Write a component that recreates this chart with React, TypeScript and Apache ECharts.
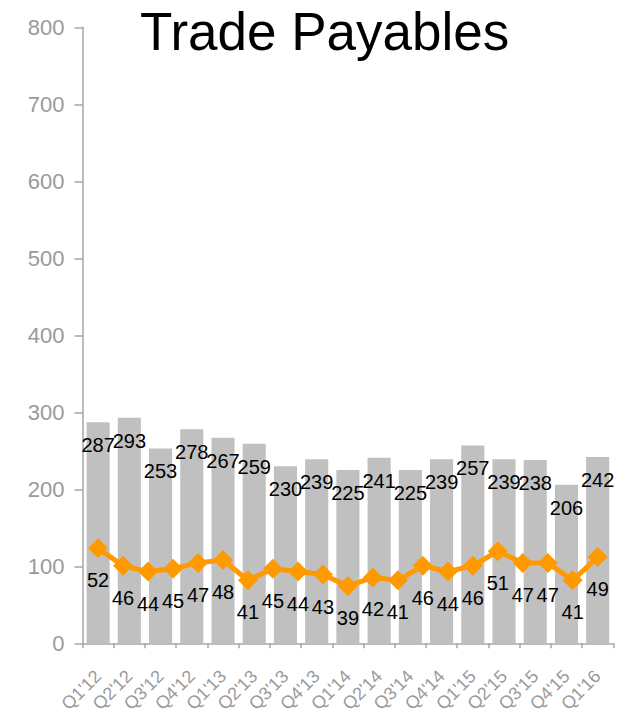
import React, { useEffect, useRef } from "react";
import * as echarts from "echarts";

const categories = ["Q1'12", "Q2'12", "Q3'12", "Q4'12", "Q1'13", "Q2'13", "Q3'13", "Q4'13", "Q1'14", "Q2'14", "Q3'14", "Q4'14", "Q1'15", "Q2'15", "Q3'15", "Q4'15", "Q1'16"];
const barValues = [287, 293, 253, 278, 267, 259, 230, 239, 225, 241, 225, 239, 257, 239, 238, 206, 242];
const lineValues = [52, 46, 44, 45, 47, 48, 41, 45, 44, 43, 39, 42, 41, 46, 44, 46, 51, 47, 47, 41, 49];
const yTicks = [0, 100, 200, 300, 400, 500, 600, 700, 800];

const FONT = "Liberation Sans, Arial, sans-serif";

export default function App() {
  const ref = useRef<HTMLDivElement>(null);
  useEffect(() => {
    if (!ref.current) return;
    const chart = echarts.init(ref.current, undefined, { renderer: "svg" });
    const n = lineValues.length - 1;
    const pad = (0.5 * n) / (categories.length - 1);
    chart.setOption({
      animation: false,
      backgroundColor: "#ffffff",
      textStyle: { fontFamily: FONT },
      title: {
        text: "Trade Payables",
        left: 135,
        top: 0,
        textStyle: { fontSize: 53, fontWeight: "normal", color: "#000000", fontFamily: FONT },
      },
      grid: { left: 82.5, right: 11.7, top: 27.3, bottom: 70.7, containLabel: false, outerBoundsMode: "none" },
      xAxis: [
        {
          type: "category",
          data: categories,
          boundaryGap: true,
          axisLine: { show: true, onZero: false, lineStyle: { color: "#a6a6a6", width: 1.5 } },
          axisTick: { show: true, length: 5, alignWithLabel: false, lineStyle: { color: "#a6a6a6", width: 1.5 } },
          axisLabel: { rotate: 45, fontSize: 18, color: "#9a9a9a", margin: 30, interval: 0, fontFamily: FONT },
          splitLine: { show: false },
        },
        {
          type: "value",
          min: -pad,
          max: n + pad,
          show: false,
          axisLine: { onZero: false },
        },
      ],
      yAxis: [
        {
          type: "value",
          min: yTicks[0],
          max: yTicks[yTicks.length - 1],
          interval: 100,
          axisLine: { show: true, onZero: false, lineStyle: { color: "#a6a6a6", width: 1.5 } },
          axisTick: { show: true, length: 8, inside: false, lineStyle: { color: "#a6a6a6", width: 1.5 } },
          axisLabel: { fontSize: 22, color: "#9a9a9a", margin: 18, fontFamily: FONT },
          splitLine: { show: false },
        },
        {
          type: "value",
          min: 19.3,
          max: 231.5,
          show: false,
          axisLine: { onZero: false },
          splitLine: { show: false },
        },
      ],
      series: [
        {
          type: "bar",
          xAxisIndex: 0,
          yAxisIndex: 0,
          data: barValues,
          barWidth: "74%",
          itemStyle: { color: "#c0c0c0" },
          label: {
            show: true,
            position: "insideTop",
            distance: 13,
            fontSize: 20,
            color: "#000000",
            fontFamily: FONT,
          },
          z: 1,
        },
        {
          type: "line",
          xAxisIndex: 1,
          yAxisIndex: 1,
          data: lineValues.map((v, i) => [i, v]),
          symbol: "diamond",
          symbolSize: 20,
          lineStyle: { color: "#ff9900", width: 5 },
          itemStyle: { color: "#ff9900" },
          label: {
            show: true,
            position: "bottom",
            distance: 12,
            fontSize: 20,
            color: "#000000",
            fontFamily: FONT,
            formatter: (p: any) => String(p.value[1]),
          },
          z: 3,
        },
      ],
    });
    return () => chart.dispose();
  }, []);
  return <div ref={ref} style={{ position: "absolute", left: 0, top: 0, width: 625, height: 714 }} />;
}
